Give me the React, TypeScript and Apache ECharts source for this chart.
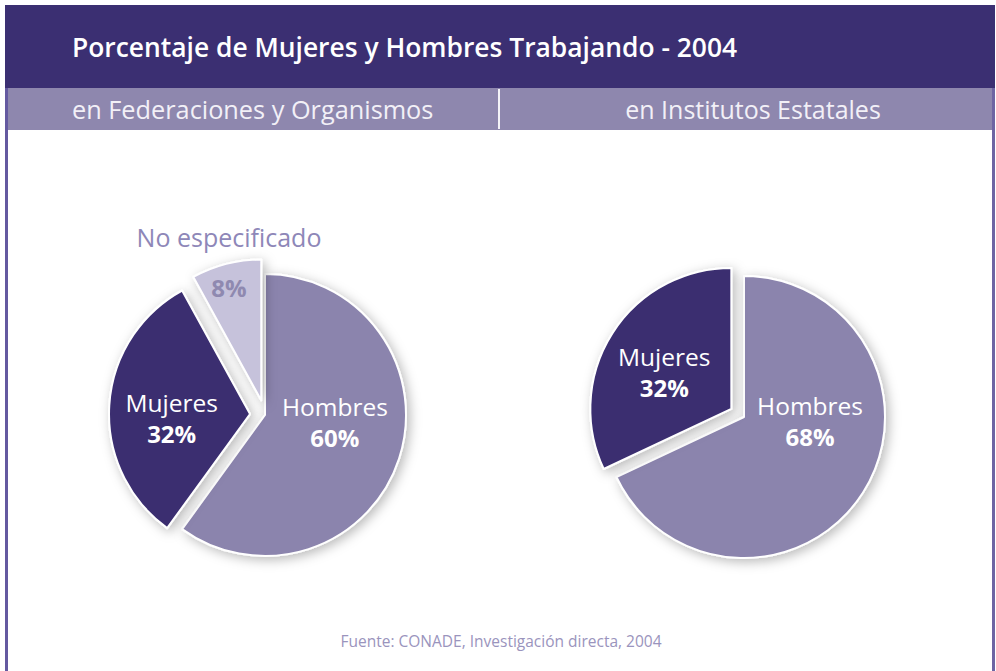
import React, { useEffect, useRef } from "react";
import * as echarts from "echarts";

const titleText = "Porcentaje de Mujeres y Hombres Trabajando - 2004";
const subtitleLeft = "en Federaciones y Organismos";
const subtitleRight = "en Institutos Estatales";
const sourceText = "Fuente: CONADE, Investigación directa, 2004";

const categoriesLeft = ["Hombres", "Mujeres", "No especificado"];
const valuesLeft = [60, 32, 8];
const categoriesRight = ["Hombres", "Mujeres"];
const valuesRight = [68, 32];

const FONT = "'Open Sans', 'Noto Sans', sans-serif";
const DARK = "#3a2e70";
const MID = "#8b84ad";
const LIGHT = "#c6c2db";

const sliceColor: Record<string, string> = {
  Hombres: MID,
  Mujeres: DARK,
  "No especificado": LIGHT,
};
const explode: Record<string, boolean> = {
  Hombres: false,
  Mujeres: true,
  "No especificado": true,
};

// label nudges [seriesIndex][dataIndex] -> [dx, dy]
const nudges: number[][][] = [
  [
    [0, -16],
    [-5, 9],
    [-14, -57],
  ],
  [
    [4, -35],
    [-5, 2],
  ],
];

function buildData(cats: string[], vals: number[]) {
  return cats.map((c, i) => ({
    name: c,
    value: vals[i],
    selected: explode[c],
    itemStyle: { color: sliceColor[c] },
  }));
}

const richStyles = {
  n: { color: "#ffffff", fontSize: 24.5, lineHeight: 31, fontFamily: FONT },
  p: {
    color: "#ffffff",
    fontSize: 24,
    lineHeight: 31,
    fontWeight: "bold",
    fontFamily: FONT,
  },
  q: {
    color: "#8e87b8",
    fontSize: 25,
    lineHeight: 30,
    fontFamily: FONT,
    padding: [0, 0, 40, 0],
  },
  r: {
    color: "#8f89b0",
    fontSize: 24,
    lineHeight: 30,
    fontWeight: "bold",
    fontFamily: FONT,
  },
};

function labelFormatter(params: any) {
  if (params.name === "No especificado") {
    return `{q|${params.name}}\n{r|${params.value}%}`;
  }
  return `{n|${params.name}}\n{p|${params.value}%}`;
}

function pieSeries(center: number[], data: any[]) {
  return {
    type: "pie",
    center,
    radius: 141,
    startAngle: 90,
    clockwise: true,
    selectedMode: "multiple",
    selectedOffset: 15,
    avoidLabelOverlap: false,
    emphasis: { disabled: true },
    itemStyle: {
      borderColor: "#ffffff",
      borderWidth: 2,
      shadowBlur: 12,
      shadowOffsetX: 3,
      shadowOffsetY: 3,
      shadowColor: "rgba(0,0,0,0.28)",
    },
    label: {
      show: true,
      position: "inside",
      formatter: labelFormatter,
      rich: richStyles,
      align: "center",
    },
    labelLine: { show: false },
    labelLayout: (p: any) => {
      const n = nudges[p.seriesIndex]?.[p.dataIndex] || [0, 0];
      return { dx: n[0], dy: n[1] };
    },
    data,
  };
}

export default function App() {
  const ref = useRef<HTMLDivElement>(null);

  useEffect(() => {
    document.body.style.margin = "0";
    document.body.style.overflow = "hidden";
    if (!ref.current) return;
    const chart = echarts.init(ref.current, null, { renderer: "svg" });
    chart.setOption({
      animation: false,
      backgroundColor: "#ffffff",
      tooltip: { show: false },
      graphic: [
        {
          type: "rect",
          shape: { x: 5, y: 5, width: 990, height: 83 },
          style: { fill: "#3b2f72" },
          z: 1,
        },
        {
          type: "rect",
          shape: { x: 5, y: 88, width: 990, height: 42 },
          style: { fill: "#8e87ae" },
          z: 1,
        },
        {
          type: "rect",
          shape: { x: 498, y: 89, width: 2, height: 40 },
          style: { fill: "#f4f3f8" },
          z: 2,
        },
        {
          type: "rect",
          shape: { x: 5, y: 88, width: 3, height: 583 },
          style: { fill: "#6459a0" },
          z: 2,
        },
        {
          type: "rect",
          shape: { x: 992, y: 88, width: 3, height: 583 },
          style: { fill: "#6e65a3" },
          z: 2,
        },
        {
          type: "text",
          x: 72,
          y: 47,
          style: {
            text: titleText,
            fill: "#ffffff",
            font: `600 26.4px ${FONT}`,
            verticalAlign: "middle",
            align: "left",
          },
          z: 3,
        },
        {
          type: "text",
          x: 72,
          y: 109,
          style: {
            text: subtitleLeft,
            fill: "#f2f0f7",
            font: `25.3px ${FONT}`,
            verticalAlign: "middle",
            align: "left",
          },
          z: 3,
        },
        {
          type: "text",
          x: 753,
          y: 109,
          style: {
            text: subtitleRight,
            fill: "#f2f0f7",
            font: `25px ${FONT}`,
            verticalAlign: "middle",
            align: "center",
          },
          z: 3,
        },
        {
          type: "text",
          x: 501,
          y: 641,
          style: {
            text: sourceText,
            fill: "#9a94bd",
            font: `15.5px ${FONT}`,
            verticalAlign: "middle",
            align: "center",
          },
          z: 3,
        },
      ],
      series: [
        pieSeries([265, 415], buildData(categoriesLeft, valuesLeft)),
        pieSeries([744, 417], buildData(categoriesRight, valuesRight)),
      ],
    });
    return () => chart.dispose();
  }, []);

  return (
    <div
      ref={ref}
      style={{
        position: "relative",
        width: 996,
        height: 671,
        background: "#ffffff",
      }}
    />
  );
}
